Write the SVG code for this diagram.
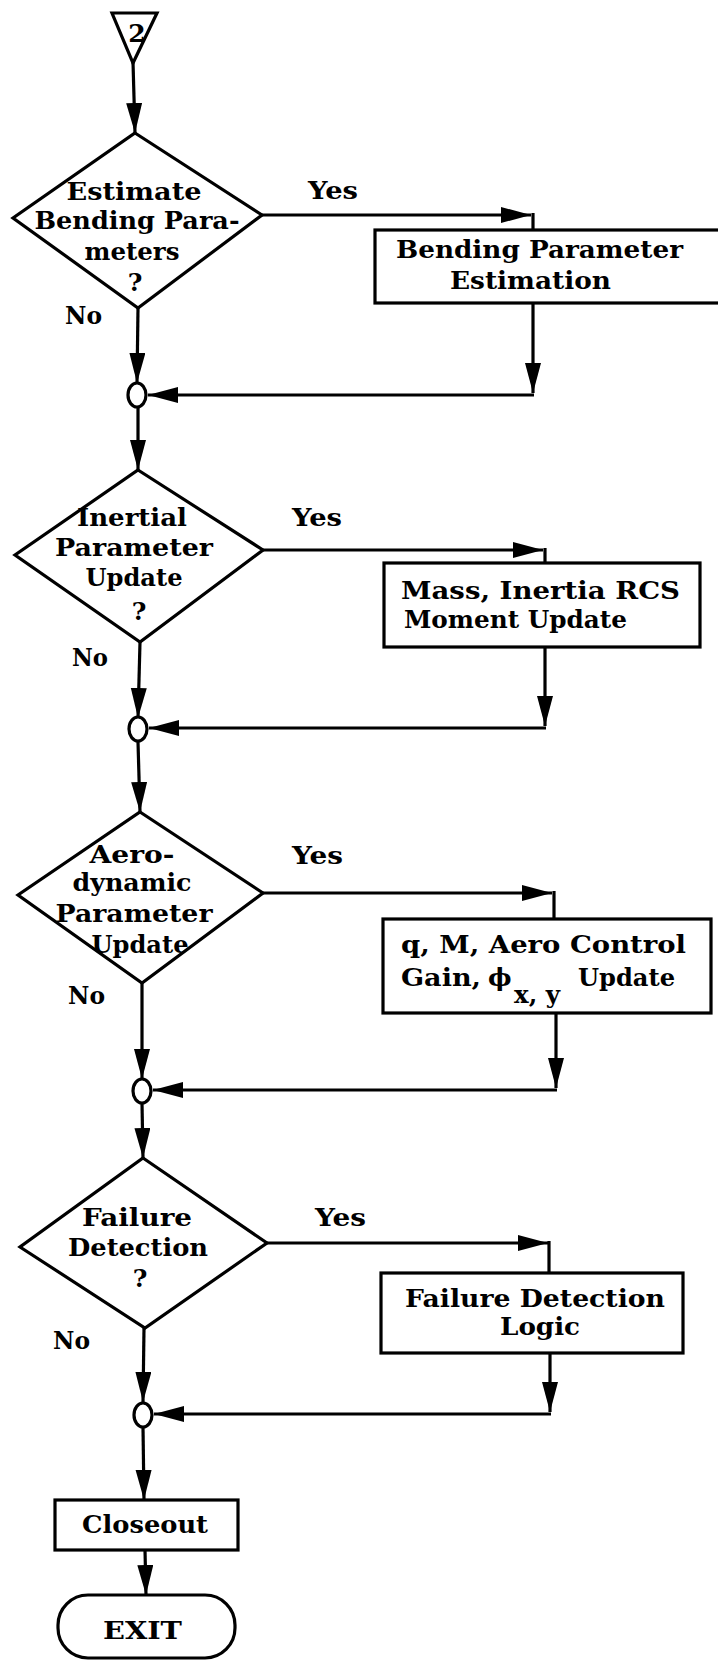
<svg xmlns="http://www.w3.org/2000/svg" width="718" height="1661" viewBox="0 0 718 1661">
<style>
.s{fill:#fff;stroke:#000;stroke-width:3.2;stroke-linejoin:miter}
.c{fill:none;stroke:#000;stroke-width:3.2}
text{font-family:"DejaVu Serif","Liberation Serif",serif;font-weight:bold;font-size:25px;fill:#000}
.m{text-anchor:middle}
</style>
<defs>
<marker id="a" markerUnits="userSpaceOnUse" markerWidth="32" markerHeight="18" refX="30" refY="8" orient="auto"><path d="M0,0 L30,8 L0,16 z" fill="#000"/></marker>
</defs>
<rect width="718" height="1661" fill="#fff"/>
<g id="connectors">
<path class="c" d="M133,62 L135,133" marker-end="url(#a)"/>
<path class="c" d="M262,215 L531,215" marker-end="url(#a)"/>
<path class="c" d="M533,213 L533,230"/>
<path class="c" d="M533,303 L533,393" marker-end="url(#a)"/>
<path class="c" d="M534,395 L148,395" marker-end="url(#a)"/>
<path class="c" d="M138,308 L137,383" marker-end="url(#a)"/>
<path class="c" d="M138,407 L138,470" marker-end="url(#a)"/>
<path class="c" d="M263,550 L543,550" marker-end="url(#a)"/>
<path class="c" d="M545,548 L545,563"/>
<path class="c" d="M545,647 L545,726" marker-end="url(#a)"/>
<path class="c" d="M546,728 L149,728" marker-end="url(#a)"/>
<path class="c" d="M140,642 L138,718" marker-end="url(#a)"/>
<path class="c" d="M138,742 L140,812" marker-end="url(#a)"/>
<path class="c" d="M263,893 L552,893" marker-end="url(#a)"/>
<path class="c" d="M554,891 L554,919"/>
<path class="c" d="M556,1013 L556,1088" marker-end="url(#a)"/>
<path class="c" d="M557,1090 L153,1090" marker-end="url(#a)"/>
<path class="c" d="M142,983 L142,1079" marker-end="url(#a)"/>
<path class="c" d="M142,1103 L143,1158" marker-end="url(#a)"/>
<path class="c" d="M267,1243 L548,1243" marker-end="url(#a)"/>
<path class="c" d="M549,1241 L549,1273"/>
<path class="c" d="M550,1353 L550,1412" marker-end="url(#a)"/>
<path class="c" d="M551,1414 L154,1414" marker-end="url(#a)"/>
<path class="c" d="M144,1328 L143,1402" marker-end="url(#a)"/>
<path class="c" d="M143,1427 L144,1500" marker-end="url(#a)"/>
<path class="c" d="M145,1550 L146,1595" marker-end="url(#a)"/>
</g>
<g id="start">
<polygon class="s" points="112,13 157,13 133,63"/>
<text class="m" x="137" y="42" font-size="24">2</text>
</g>
<g id="d1">
<polygon class="s" points="135,133 262,215 138,308 13,218"/>
<text class="m" x="134" y="200" textLength="135" lengthAdjust="spacingAndGlyphs">Estimate</text>
<text class="m" x="137" y="229" textLength="205" lengthAdjust="spacingAndGlyphs">Bending Para-</text>
<text class="m" x="132" y="260" textLength="95" lengthAdjust="spacingAndGlyphs">meters</text>
<text class="m" x="135" y="291" font-size="22">?</text>
<text x="308" y="199" textLength="50" lengthAdjust="spacingAndGlyphs">Yes</text>
<text x="65" y="324" textLength="37" lengthAdjust="spacingAndGlyphs">No</text>
</g>
<g id="b1">
<rect class="s" x="375" y="230" width="360" height="73"/>
<text x="396" y="258" textLength="287" lengthAdjust="spacingAndGlyphs">Bending Parameter</text>
<text x="450" y="289" textLength="161" lengthAdjust="spacingAndGlyphs">Estimation</text>
</g>
<ellipse id="j1" class="s" cx="137" cy="395" rx="9" ry="12"/>
<g id="d2">
<polygon class="s" points="138,470 263,550 140,642 15,555"/>
<text class="m" x="132" y="526" textLength="110" lengthAdjust="spacingAndGlyphs">Inertial</text>
<text class="m" x="134" y="556" textLength="158" lengthAdjust="spacingAndGlyphs">Parameter</text>
<text class="m" x="134" y="586" textLength="97" lengthAdjust="spacingAndGlyphs">Update</text>
<text class="m" x="139" y="620" font-size="22">?</text>
<text x="292" y="526" textLength="50" lengthAdjust="spacingAndGlyphs">Yes</text>
<text x="72" y="666" textLength="36" lengthAdjust="spacingAndGlyphs">No</text>
</g>
<g id="b2">
<rect class="s" x="384" y="563" width="316" height="84"/>
<text x="401" y="599" textLength="279" lengthAdjust="spacingAndGlyphs">Mass, Inertia RCS</text>
<text x="404" y="628" textLength="223" lengthAdjust="spacingAndGlyphs">Moment Update</text>
</g>
<ellipse id="j2" class="s" cx="138" cy="729" rx="9" ry="12"/>
<g id="d3">
<polygon class="s" points="140,812 263,893 142,983 18,895"/>
<text class="m" x="132" y="863" textLength="85" lengthAdjust="spacingAndGlyphs">Aero-</text>
<text class="m" x="132" y="891" textLength="119" lengthAdjust="spacingAndGlyphs">dynamic</text>
<text class="m" x="134" y="922" textLength="157" lengthAdjust="spacingAndGlyphs">Parameter</text>
<text class="m" x="140" y="953" textLength="97" lengthAdjust="spacingAndGlyphs">Update</text>
<text x="292" y="864" textLength="51" lengthAdjust="spacingAndGlyphs">Yes</text>
<text x="68" y="1004" textLength="37" lengthAdjust="spacingAndGlyphs">No</text>
</g>
<g id="b3">
<rect class="s" x="383" y="919" width="328" height="94"/>
<text x="401" y="953" textLength="285" lengthAdjust="spacingAndGlyphs">q, M,  Aero Control</text>
<text x="401" y="986" textLength="80" lengthAdjust="spacingAndGlyphs">Gain,</text>
<text x="488" y="986" font-size="22">ϕ</text>
<text x="514" y="1003" font-size="18" textLength="46" lengthAdjust="spacingAndGlyphs">x, y</text>
<text x="578" y="986" textLength="97" lengthAdjust="spacingAndGlyphs">Update</text>
</g>
<ellipse id="j3" class="s" cx="142" cy="1091" rx="9" ry="12"/>
<g id="d4">
<polygon class="s" points="143,1158 267,1243 145,1328 20,1247"/>
<text class="m" x="137" y="1226" textLength="110" lengthAdjust="spacingAndGlyphs">Failure</text>
<text class="m" x="138" y="1256" textLength="140" lengthAdjust="spacingAndGlyphs">Detection</text>
<text class="m" x="140" y="1287" font-size="22">?</text>
<text x="315" y="1226" textLength="51" lengthAdjust="spacingAndGlyphs">Yes</text>
<text x="53" y="1349" textLength="37" lengthAdjust="spacingAndGlyphs">No</text>
</g>
<g id="b4">
<rect class="s" x="381" y="1273" width="302" height="80"/>
<text x="405" y="1307" textLength="260" lengthAdjust="spacingAndGlyphs">Failure Detection</text>
<text x="500" y="1335" textLength="80" lengthAdjust="spacingAndGlyphs">Logic</text>
</g>
<ellipse id="j4" class="s" cx="143" cy="1415" rx="9" ry="12"/>
<g id="closeout">
<rect class="s" x="55" y="1500" width="183" height="50"/>
<text x="82" y="1533" textLength="126" lengthAdjust="spacingAndGlyphs">Closeout</text>
</g>
<g id="exit">
<rect class="s" x="58" y="1595" width="177" height="63" rx="30" ry="30"/>
<text x="103" y="1639" textLength="79" lengthAdjust="spacingAndGlyphs">EXIT</text>
</g>
</svg>
